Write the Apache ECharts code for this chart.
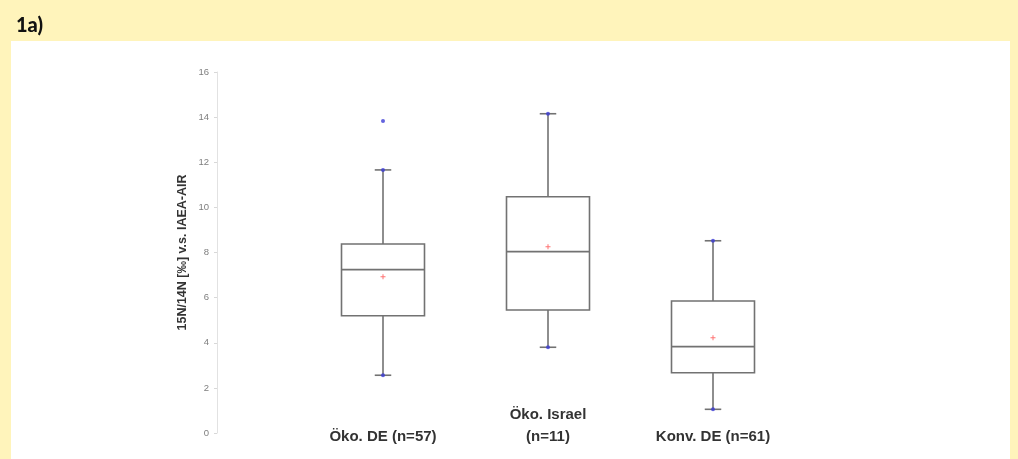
<!DOCTYPE html>
<html>
<head>
<meta charset="utf-8">
<script src="https://cdn.jsdelivr.net/npm/echarts@6/dist/echarts.min.js"></script>
<style>
html,body{margin:0;padding:0;}
#wrap{position:relative;width:1018px;height:459px;background:#fff4bb;overflow:hidden;}
#panel{position:absolute;left:11px;top:41px;width:999px;height:418px;background:#fff;}
#chart{position:absolute;left:0;top:0;width:1018px;height:459px;}
</style>
</head>
<body>
<div id="wrap"><div id="panel"></div><div id="chart"></div></div>
<script>
// ---- data ----
const categories = ['Öko. DE (n=57)', 'Öko. Israel\n(n=11)', 'Konv. DE (n=61)'];
const whiskerLow  = [2.56, 3.80, 1.05];
const q1          = [5.20, 5.45, 2.67];
const median      = [7.24, 8.04, 3.83];
const q3          = [8.38, 10.47, 5.85];
const whiskerHigh = [11.66, 14.15, 8.52];
const means       = [6.93, 8.26, 4.22];
const outliers    = [[0, 13.83]];
const yMin = 0, yMax = 16, yInterval = 2;
const yName = '15N/14N [‰] v.s. IAEA-AIR';
const title = '1a)';

const boxData = categories.map((c, i) => [i, whiskerLow[i], q1[i], median[i], q3[i], whiskerHigh[i]]);
const endDots = [];
categories.forEach((c, i) => { endDots.push([i, whiskerLow[i]]); endDots.push([i, whiskerHigh[i]]); });
const meanData = means.map((m, i) => [i, m]);

const lineColor = '#727272';
function renderBox(params, api) {
  const x = api.value(0);
  const lo = api.coord([x, api.value(1)]);
  const a = api.coord([x, api.value(2)]);
  const md = api.coord([x, api.value(3)]);
  const b = api.coord([x, api.value(4)]);
  const hi = api.coord([x, api.value(5)]);
  const band = api.size([1, 0])[0];
  const bw = band * 0.503, cw = band * 0.1;
  const cx = lo[0];
  const st = { stroke: lineColor, lineWidth: 1.6, fill: 'rgba(0,0,0,0)' };
  return {
    type: 'group',
    children: [
      { type: 'line', shape: { x1: cx, y1: hi[1], x2: cx, y2: b[1] }, style: st },
      { type: 'line', shape: { x1: cx, y1: a[1], x2: cx, y2: lo[1] }, style: st },
      { type: 'line', shape: { x1: cx - cw / 2, y1: hi[1], x2: cx + cw / 2, y2: hi[1] }, style: st },
      { type: 'line', shape: { x1: cx - cw / 2, y1: lo[1], x2: cx + cw / 2, y2: lo[1] }, style: st },
      { type: 'rect', shape: { x: cx - bw / 2, y: b[1], width: bw, height: a[1] - b[1] }, style: st },
      { type: 'line', shape: { x1: cx - bw / 2, y1: md[1], x2: cx + bw / 2, y2: md[1] }, style: st }
    ]
  };
}

const chart = echarts.init(document.getElementById('chart'), null, { renderer: 'canvas' });
chart.setOption({
  animation: false,
  backgroundColor: 'transparent',
  title: {
    text: title, left: 11, top: 11,
    textStyle: { fontFamily: 'Lato, "Open Sans", sans-serif', fontWeight: 900, fontSize: 20, color: '#111' }
  },
  grid: { left: 300.5, right: 222.5, top: 72, bottom: 26, containLabel: false },
  xAxis: {
    type: 'category',
    data: categories,
    boundaryGap: true,
    axisLine: { show: false },
    axisTick: { show: false },
    splitLine: { show: false },
    axisLabel: {
      interval: 0,
      margin: 15,
      verticalAlign: 'bottom',
      fontFamily: '"Liberation Sans", Arial, sans-serif',
      fontWeight: 'bold',
      fontSize: 15,
      lineHeight: 22,
      color: '#333'
    }
  },
  yAxis: {
    type: 'value',
    min: yMin, max: yMax, interval: yInterval,
    offset: 83.5,
    name: yName,
    nameLocation: 'middle',
    nameGap: 28,
    nameTextStyle: { fontFamily: '"Liberation Sans", Arial, sans-serif', fontWeight: 'bold', fontSize: 12.5, color: '#333' },
    axisLine: { show: true, lineStyle: { color: '#e2e2e2', width: 1 } },
    axisTick: { show: true, length: 3, lineStyle: { color: '#d8d8d8' } },
    splitLine: { show: false },
    axisLabel: {
      margin: 8,
      fontFamily: '"Liberation Sans", Arial, sans-serif',
      fontSize: 9.5,
      color: '#7e7e7e'
    }
  },
  series: [
    {
      type: 'custom',
      renderItem: renderBox,
      data: boxData,
      encode: { x: 0, y: [1, 2, 3, 4, 5] },
      z: 2
    },
    {
      type: 'scatter',
      data: endDots.concat(outliers),
      symbol: 'circle',
      symbolSize: 4,
      itemStyle: { color: '#3c3cd6' },
      z: 3
    },
    {
      type: 'scatter',
      data: meanData,
      symbol: 'path://M2 0H3V2H5V3H3V5H2V3H0V2H2Z',
      symbolSize: 5,
      itemStyle: { color: '#ff5050' },
      z: 3
    }
  ]
});
</script>
</body>
</html>
